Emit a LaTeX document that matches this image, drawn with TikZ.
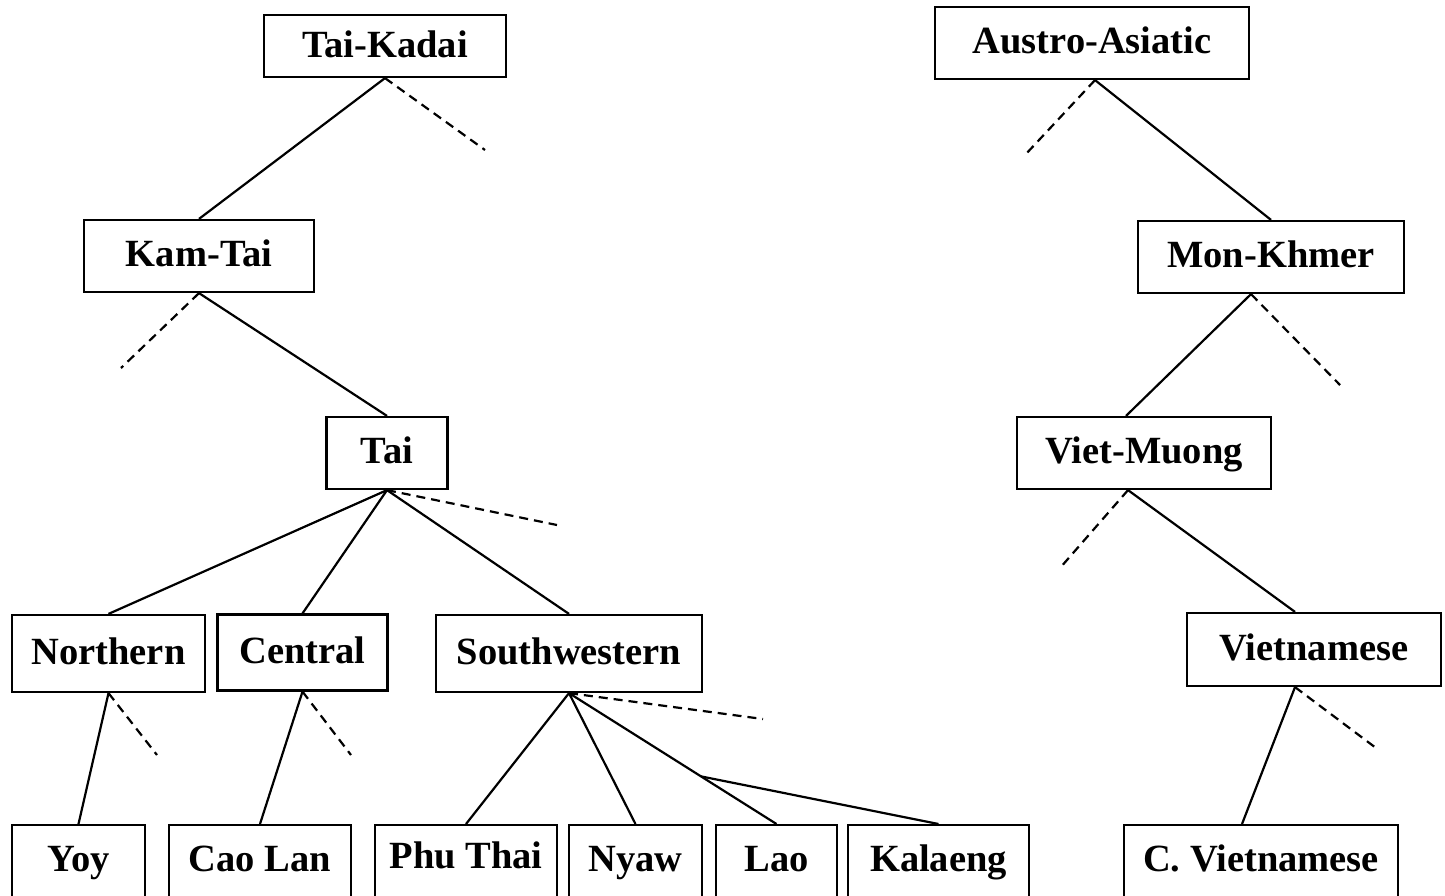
\documentclass[tikz,border=0pt]{standalone}
\usepackage{fontspec}
\setmainfont{Liberation Serif}
\usetikzlibrary{calc}
\begin{document}
\begin{tikzpicture}[x=1pt,y=-1pt,
  every node/.style={font=\fontsize{38.5}{42}\selectfont\bfseries},
  box/.style={draw,line width=2.2pt,inner sep=0pt,text height=26pt,text depth=5pt},
  leafbox/.style={draw,line width=2.2pt,anchor=north,inner xsep=0pt,inner ysep=16pt,text height=30pt,text depth=60pt},
  edge/.style={line width=2.2pt},
  dashedge/.style={line width=2.2pt,dash pattern=on 9pt off 6pt}]
\useasboundingbox (0,0) rectangle (1445,895);
% upper nodes
\node[box,minimum width=242pt,minimum height=62pt,text depth=3pt] (tk) at (385,46) {Tai-Kadai};
\node[box,minimum width=314pt,minimum height=72pt] (aa) at (1092,43) {Austro-Asiatic};
\node[box,minimum width=230pt,minimum height=72pt] (kt) at (199,256) {Kam-Tai};
\node[box,minimum width=266pt,minimum height=72pt] (mk) at (1271,257) {Mon-Khmer};
\node[box,minimum width=121pt,minimum height=72pt] (tai) at (387,453) {Tai};
\node[box,minimum width=254pt,minimum height=72pt] (vm) at (1144,453) {Viet-Muong};
\node[box,minimum width=193pt,minimum height=77pt] (no) at (108.5,653.5) {Northern};
\node[box,minimum width=170pt,minimum height=76pt] (ce) at (302.5,652.5) {Central};
\node[box,minimum width=266pt,minimum height=77pt] (sw) at (569,653.5) {Southwestern};
\node[box,minimum width=254pt,minimum height=73pt] (vn) at (1314,649.5) {Vietnamese};
% leaves
\node[leafbox,minimum width=133pt] (yoy) at (78.5,824) {Yoy};
\node[leafbox,minimum width=182pt] (cl) at (260,824) {Cao Lan};
\node[leafbox,minimum width=182pt,inner ysep=13pt] (pt) at (466,824) {Phu Thai};
\node[leafbox,minimum width=133pt] (ny) at (635.5,824) {Nyaw};
\node[leafbox,minimum width=121pt] (lao) at (776.5,824) {Lao};
\node[leafbox,minimum width=181pt] (ka) at (938.5,824) {Kalaeng};
\node[leafbox,minimum width=274pt] (cv) at (1261,824) {C. Vietnamese};
% free ends of dashed lines
\coordinate (d1) at (485,150);
\coordinate (d2) at (1025,155);
\coordinate (d3) at (121,368);
\coordinate (d4) at (1340,385);
\coordinate (d5) at (557,525);
\coordinate (d6) at (1060,568);
\coordinate (d7) at (157,755);
\coordinate (d8) at (351,755);
\coordinate (d9) at (763,719);
\coordinate (d10) at (1376,748);
% solid edges
\draw[edge] (tk.south) -- (kt.north);
\draw[edge] ([xshift=3pt]aa.south) -- (mk.north);
\draw[edge] (kt.south) -- (tai.north);
\draw[edge] ([xshift=-20pt]mk.south) -- ([xshift=-18pt]vm.north);
\draw[edge] (tai.south) -- (no.north);
\draw[edge] (tai.south) -- (ce.north);
\draw[edge] (tai.south) -- (sw.north);
\draw[edge] ([xshift=-16pt]vm.south) -- ([xshift=-19pt]vn.north);
\draw[edge] (no.south) -- (yoy.north);
\draw[edge] (ce.south) -- (cl.north);
\draw[edge] (sw.south) -- (pt.north);
\draw[edge] (sw.south) -- (ny.north);
\draw[edge] (sw.south) -- (lao.north);
\coordinate (br) at ($(sw.south)!0.636!(lao.north)$);
\draw[edge] (br) -- (ka.north);
\draw[edge] ([xshift=-19pt]vn.south) -- ([xshift=-19pt]cv.north);
% dashed edges
\draw[dashedge] (tk.south) -- (d1);
\draw[dashedge] ([xshift=3pt]aa.south) -- (d2);
\draw[dashedge] (kt.south) -- (d3);
\draw[dashedge] ([xshift=-20pt]mk.south) -- (d4);
\draw[dashedge] (tai.south) -- (d5);
\draw[dashedge] ([xshift=-16pt]vm.south) -- (d6);
\draw[dashedge] (no.south) -- (d7);
\draw[dashedge] (ce.south) -- (d8);
\draw[dashedge] (sw.south) -- (d9);
\draw[dashedge] ([xshift=-19pt]vn.south) -- (d10);
\end{tikzpicture}
\end{document}
